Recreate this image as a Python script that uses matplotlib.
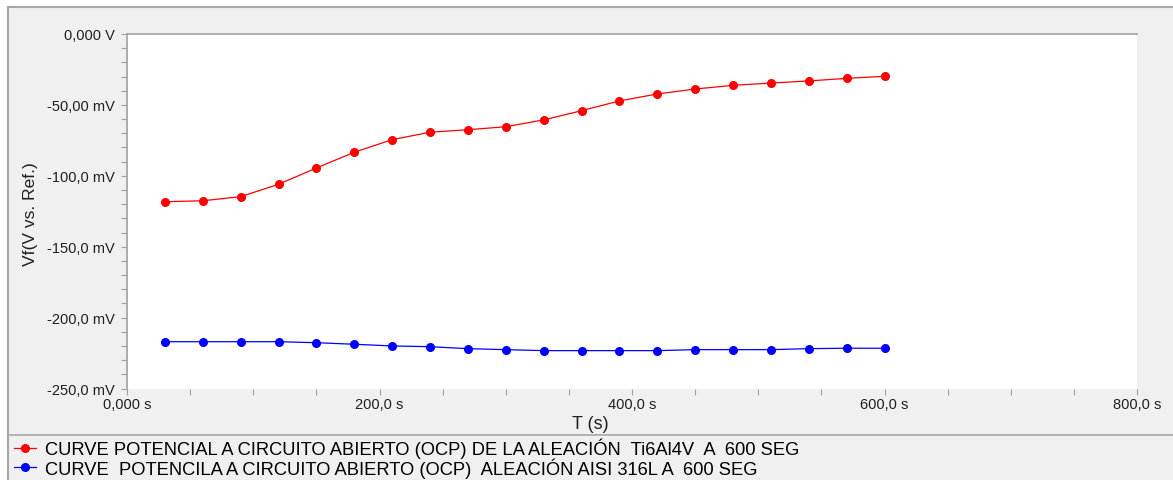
import matplotlib.pyplot as plt
from matplotlib.patches import Rectangle
from matplotlib.lines import Line2D
from matplotlib.ticker import MultipleLocator, FixedLocator, FixedFormatter

plt.rcParams['font.family'] = ['Liberation Sans', 'DejaVu Sans']

# time (s) and open circuit potential (mV)
t_s = [30, 60, 90, 120, 150, 180, 210, 240, 270, 300,
       330, 360, 390, 420, 450, 480, 510, 540, 570, 600]
ocp_ti6al4v = [-118.3, -117.6, -114.7, -106.0, -94.5, -83.4, -74.5, -69.3, -67.5, -65.4,
               -60.6, -54.1, -47.2, -42.3, -38.8, -36.2, -34.6, -33.1, -31.3, -29.8]
ocp_aisi316l = [-217.0, -217.0, -217.0, -217.0, -217.7, -218.8, -220.0, -220.5, -221.9, -222.6,
                -223.3, -223.3, -223.3, -223.3, -222.6, -222.6, -222.6, -221.9, -221.6, -221.6]

label_ti = "CURVE POTENCIAL A CIRCUITO ABIERTO (OCP) DE LA ALEACIÓN  Ti6Al4V  A  600 SEG"
label_ss = "CURVE  POTENCILA A CIRCUITO ABIERTO (OCP)  ALEACIÓN AISI 316L A  600 SEG"

y_ticks = [0, -50, -100, -150, -200, -250]
y_ticklabels = ["0,000 V", "-50,00 mV", "-100,0 mV", "-150,0 mV", "-200,0 mV", "-250,0 mV"]
x_ticks = [0, 200, 400, 600, 800]
x_ticklabels = ["0,000 s", "200,0 s", "400,0 s", "600,0 s", "800,0 s"]

W, H = 1173, 481
fig = plt.figure(figsize=(W / 100, H / 100), dpi=100, facecolor='white')

# gray panel with border lines
fig.patches.append(Rectangle((8 / W, 0), 1, 1 - 8 / H, transform=fig.transFigure,
                             facecolor='#f0f0f0', edgecolor='none', zorder=-5))
fig.lines.append(Line2D([8 / W, 1], [1 - 8 / H, 1 - 8 / H], transform=fig.transFigure,
                        color='#a8a8a8', lw=1.5))
fig.lines.append(Line2D([8 / W, 8 / W], [0, 1 - 8 / H], transform=fig.transFigure,
                        color='#a8a8a8', lw=1.5))
fig.lines.append(Line2D([8 / W, 1], [1 - 436 / H, 1 - 436 / H], transform=fig.transFigure,
                        color='#a8a8a8', lw=1.2))

ax = fig.add_axes([127 / W, 1 - 389.5 / H, 1010 / W, 354.5 / H])
ax.set_zorder(3)
ax.set_facecolor('white')

ax.plot(t_s, ocp_ti6al4v, color='#ff0000', lw=0.9, marker='o', ms=5.5, label=label_ti)
ax.plot(t_s, ocp_aisi316l, color='#0000ff', lw=0.9, marker='o', ms=5.5, label=label_ss)

ax.set_xlim(0, 800)
ax.set_ylim(-250, 0)

ax.yaxis.set_major_locator(FixedLocator(y_ticks))
ax.yaxis.set_major_formatter(FixedFormatter(y_ticklabels))
ax.yaxis.set_minor_locator(MultipleLocator(10))
ax.xaxis.set_major_locator(FixedLocator(x_ticks))
ax.xaxis.set_major_formatter(FixedFormatter(x_ticklabels))
ax.xaxis.set_minor_locator(MultipleLocator(50))

ax.tick_params(axis='both', which='both', direction='out', length=4, width=0.8,
               color='#a0a0a0', labelsize=10.5, labelcolor='#202020')
ax.tick_params(axis='x', which='major', pad=2)
ax.tick_params(axis='y', which='major', pad=5)

for side in ['right', 'bottom']:
    ax.spines[side].set_visible(False)
for side in ['left', 'top']:
    ax.spines[side].set_color('#a0a0a0')
    ax.spines[side].set_linewidth(1.2)

ax.set_xlabel("T (s)", fontsize=13, color='#202020')
ax.set_ylabel("Vf(V vs. Ref.)", fontsize=12.5, color='#202020')
ax.xaxis.set_label_coords(0.459, -0.075)
ax.yaxis.set_label_coords(-0.088, 0.496)

fig.legend(loc='upper left', bbox_to_anchor=(10 / W, 1 - 435 / H), frameon=False,
           fontsize=13.2, handlelength=1.2, handletextpad=0.5, labelspacing=-0.05,
           borderpad=0.2, borderaxespad=0)

fig.savefig('out.png', dpi=100, facecolor=fig.get_facecolor())
